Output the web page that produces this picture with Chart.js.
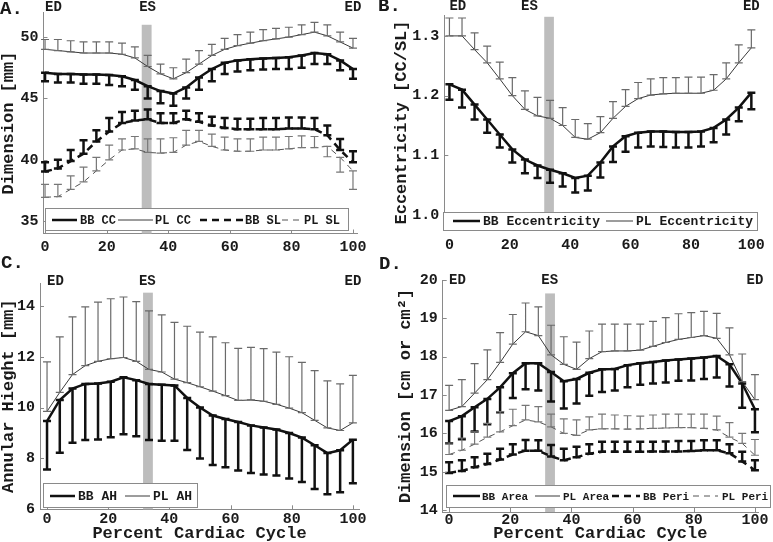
<!DOCTYPE html>
<html>
<head>
<meta charset="utf-8">
<script src="https://cdn.jsdelivr.net/npm/chart.js@4.4.1/dist/chart.umd.min.js"></script>
<style>
  html, body { margin: 0; padding: 0; background: #fff; }
  #wrap { position: relative; width: 773px; height: 542px; overflow: hidden; }
  canvas { position: absolute; }
</style>
</head>
<body>
<div id="wrap">
  <canvas id="cA"></canvas>
  <canvas id="cB"></canvas>
  <canvas id="cC"></canvas>
  <canvas id="cD"></canvas>
</div>
<script>
// percent of cardiac cycle (25 frames)
const pct = [0, 4.17, 8.33, 12.5, 16.67, 20.83, 25, 29.17, 33.33, 37.5, 41.67, 45.83, 50,
             54.17, 58.33, 62.5, 66.67, 70.83, 75, 79.17, 83.33, 87.5, 91.67, 95.83, 100];
const xTicks = [0, 20, 40, 60, 80, 100];
const esBand = [31.4, 34.6];

// A. CC / SL dimensions [mm]  (mean, and end of the error bar)
const yTicksA = [35, 40, 45, 50];
const bbCC    = [47.1, 47.0, 47.0, 46.95, 46.95, 46.9, 46.8, 46.5, 46.0, 45.6, 45.4, 45.9, 46.7, 47.4, 47.9, 48.1, 48.2, 48.25, 48.3, 48.35, 48.5, 48.7, 48.6, 48.1, 47.4];
const bbCCbar = [46.4, 46.3, 46.3, 46.2, 46.2, 46.1, 46.0, 45.7, 45.0, 44.6, 44.4, 45.0, 45.7, 46.4, 47.0, 47.2, 47.3, 47.35, 47.4, 47.4, 47.5, 47.8, 47.8, 47.3, 46.6];
const plCC    = [49.0, 48.9, 48.8, 48.7, 48.7, 48.7, 48.6, 48.3, 47.6, 47.0, 46.6, 47.1, 47.8, 48.5, 49.0, 49.3, 49.5, 49.7, 49.85, 50.0, 50.2, 50.4, 50.1, 49.6, 49.1];
const plCCbar = [49.8, 49.8, 49.7, 49.6, 49.6, 49.6, 49.5, 49.2, 48.5, 47.8, 47.5, 48.2, 48.9, 49.4, 49.9, 50.2, 50.4, 50.6, 50.7, 50.8, 51.0, 51.2, 51.0, 50.4, 49.9];
const bbSL    = [39.05, 39.3, 39.9, 40.5, 41.5, 42.3, 43.0, 43.2, 43.3, 43.0, 43.0, 43.3, 43.1, 42.8, 42.6, 42.5, 42.5, 42.5, 42.5, 42.55, 42.55, 42.5, 42.0, 40.8, 39.8];
const bbSLbar = [39.8, 40.0, 40.8, 41.6, 42.4, 43.4, 43.9, 44.0, 44.1, 43.8, 43.8, 44.0, 43.8, 43.5, 43.4, 43.35, 43.35, 43.4, 43.4, 43.45, 43.45, 43.4, 42.8, 41.7, 40.7];
const plSL    = [36.95, 37.0, 37.6, 38.2, 39.1, 40.0, 40.8, 40.9, 40.6, 40.55, 40.6, 41.2, 41.5, 41.1, 40.8, 40.7, 40.7, 40.8, 40.8, 40.9, 41.0, 41.0, 41.1, 40.2, 39.1];
const plSLbar = [38.0, 38.0, 38.7, 39.4, 40.2, 41.2, 41.7, 41.9, 41.7, 41.7, 41.8, 42.4, 42.4, 42.1, 41.85, 41.7, 41.7, 41.85, 41.85, 41.9, 41.95, 41.9, 40.25, 39.0, 37.6];

// B. eccentricity [CC/SL]
const yTicksB  = [1.0, 1.1, 1.2, 1.3];
const yLabelsB = ['1.0', '1.1', '1.2', '1.3'];
const bbEcc    = [1.219, 1.21, 1.185, 1.16, 1.135, 1.11, 1.093, 1.083, 1.076, 1.07, 1.062, 1.066, 1.088, 1.115, 1.132, 1.138, 1.14, 1.14, 1.139, 1.139, 1.14, 1.146, 1.16, 1.18, 1.205];
const bbEccBar = [1.193, 1.18, 1.16, 1.138, 1.113, 1.088, 1.07, 1.062, 1.054, 1.048, 1.038, 1.041, 1.063, 1.089, 1.106, 1.113, 1.115, 1.114, 1.113, 1.113, 1.115, 1.122, 1.135, 1.157, 1.177];
const plEcc    = [1.30, 1.30, 1.277, 1.255, 1.228, 1.20, 1.177, 1.166, 1.162, 1.15, 1.13, 1.127, 1.138, 1.162, 1.182, 1.195, 1.201, 1.203, 1.204, 1.204, 1.204, 1.209, 1.228, 1.255, 1.28];
const plEccBar = [1.33, 1.33, 1.305, 1.283, 1.256, 1.23, 1.208, 1.197, 1.192, 1.18, 1.16, 1.153, 1.165, 1.19, 1.21, 1.222, 1.228, 1.23, 1.23, 1.231, 1.231, 1.235, 1.255, 1.285, 1.31];

// C. annular height [mm]
const yTicksC = [6, 8, 10, 12, 14];
const bbAH    = [9.47, 10.3, 10.75, 10.93, 10.95, 11.02, 11.19, 11.08, 10.93, 10.9, 10.87, 10.38, 10.0, 9.69, 9.55, 9.43, 9.3, 9.22, 9.14, 9.0, 8.82, 8.52, 8.21, 8.32, 8.74];
const bbAHbar = [7.57, 8.22, 8.62, 8.73, 8.75, 8.83, 8.95, 8.87, 8.73, 8.7, 8.7, 8.33, 8.0, 7.74, 7.65, 7.53, 7.43, 7.37, 7.33, 7.21, 7.07, 6.8, 6.59, 6.67, 7.02];
const plAH    = [9.85, 10.6, 11.3, 11.65, 11.82, 11.92, 11.97, 11.82, 11.5, 11.4, 11.12, 10.98, 10.82, 10.65, 10.47, 10.28, 10.3, 10.25, 10.13, 9.98, 9.8, 9.5, 9.2, 9.1, 9.4];
const plAHbar = [11.8, 12.78, 13.57, 13.96, 14.15, 14.28, 14.35, 14.17, 13.8, 13.65, 13.35, 13.2, 12.97, 12.78, 12.55, 12.33, 12.37, 12.32, 12.18, 12.0, 11.78, 11.45, 11.05, 10.93, 11.27];

// D. area [cm2] and perimeter [cm]
const yTicksD   = [14, 15, 16, 17, 18, 19, 20];
const bbArea    = [16.32, 16.45, 16.68, 16.9, 17.2, 17.57, 17.83, 17.83, 17.6, 17.36, 17.42, 17.58, 17.67, 17.68, 17.78, 17.83, 17.86, 17.9, 17.93, 17.95, 17.98, 18.02, 17.8, 17.3, 16.63];
const bbAreaBar = [15.74, 15.85, 16.05, 16.24, 16.55, 16.92, 17.15, 17.12, 16.83, 16.65, 16.78, 16.98, 17.08, 17.12, 17.2, 17.27, 17.3, 17.33, 17.37, 17.38, 17.42, 17.46, 17.22, 16.67, 16.03];
const plArea    = [16.6, 16.7, 17.05, 17.4, 17.85, 18.33, 18.65, 18.55, 18.05, 17.8, 17.67, 17.95, 18.13, 18.15, 18.15, 18.17, 18.27, 18.37, 18.45, 18.5, 18.55, 18.48, 18.05, 17.35, 16.88];
const plAreaBar = [17.25, 17.4, 17.82, 18.18, 18.63, 19.1, 19.4, 19.3, 18.82, 18.52, 18.38, 18.67, 18.85, 18.85, 18.85, 18.85, 18.92, 19.02, 19.12, 19.15, 19.18, 19.13, 18.75, 18.07, 17.53];
const bbPeri    = [14.97, 15.02, 15.12, 15.2, 15.32, 15.45, 15.55, 15.55, 15.4, 15.3, 15.38, 15.47, 15.52, 15.52, 15.52, 15.52, 15.53, 15.53, 15.53, 15.54, 15.56, 15.56, 15.48, 15.27, 15.04];
const bbPeriBar = [15.25, 15.3, 15.38, 15.47, 15.6, 15.72, 15.83, 15.82, 15.7, 15.6, 15.65, 15.72, 15.78, 15.78, 15.78, 15.78, 15.78, 15.79, 15.8, 15.8, 15.82, 15.82, 15.72, 15.52, 15.3];
const plPeri    = [15.45, 15.56, 15.72, 15.9, 16.04, 16.2, 16.35, 16.3, 16.17, 16.0, 15.95, 16.09, 16.12, 16.12, 16.11, 16.12, 16.13, 16.14, 16.15, 16.15, 16.13, 16.09, 15.9, 15.74, 15.43];
const plPeriBar = [15.75, 15.88, 16.04, 16.26, 16.57, 16.63, 16.73, 16.7, 16.5, 16.38, 16.35, 16.43, 16.5, 16.48, 16.46, 16.45, 16.48, 16.5, 16.5, 16.5, 16.5, 16.45, 16.28, 16.0, 15.84];

const FONT = '"Liberation Mono", "Courier New", monospace';
const INK = '#1a1a1a';
const AXIS = '#8a8a8a';

const styles = {
  bb:     { color: '#111', width: 2.5, dash: [],     barColor: '#111', barWidth: 2.5 },
  pl:     { color: '#3a3a3a', width: 1, dash: [],    barColor: '#6a6a6a', barWidth: 1.2 },
  bbDash: { color: '#111', width: 2.5, dash: [7, 5], barColor: '#111', barWidth: 2.5 },
  plDash: { color: '#555', width: 1, dash: [6, 5],   barColor: '#777', barWidth: 1.2 }
};

// page layout (pixels) per panel
const panels = [
  { id: 'cA', letter: 'A.', letterPos: [0, 9], canvas: [0, 0, 386, 271], area: [43.5, 4, 357.6, 233.5],
    xlim: [-0.5, 101.5], ylim: [34, 52], yTicks: yTicksA, yTitle: 'Dimension [mm]', yTitlePad: 0,
    xTitle: '', xPad: 6, bandTop: 51, esX: 33.3, markY: 7,
    series: [
      { label: 'BB CC', mean: bbCC, bar: bbCCbar, st: 'bb' },
      { label: 'PL CC', mean: plCC, bar: plCCbar, st: 'pl' },
      { label: 'BB SL', mean: bbSL, bar: bbSLbar, st: 'bbDash' },
      { label: 'PL SL', mean: plSL, bar: plSLbar, st: 'plDash' }
    ],
    legend: { box: [45, 208, 348, 230], ty: 220, size: 12,
      items: [[52, 77, 80, 0], [118, 153, 155, 1], [200, 243, 245, 2], [282, 302, 304, 3]] } },
  { id: 'cB', letter: 'B.', letterPos: [378, 6], canvas: [376, 0, 397, 271], area: [444.3, 15, 758, 230],
    xlim: [-1.7, 101], ylim: [0.975, 1.335], yTicks: yTicksB, yLabels: yLabelsB, yTitle: 'Eccentricity [CC/SL]', yTitlePad: 17.5,
    xTitle: '', xPad: 8, bandTop: 1.332, esX: 26.5, markY: 6,
    series: [
      { label: 'BB Eccentricity', mean: bbEcc, bar: bbEccBar, st: 'bb' },
      { label: 'PL Eccentricity', mean: plEcc, bar: plEccBar, st: 'pl' }
    ],
    legend: { box: [443, 212, 757, 230], ty: 221, size: 13,
      items: [[453, 480, 483, 0], [606, 633, 636, 1]] } },
  { id: 'cC', letter: 'C.', letterPos: [1, 263], canvas: [0, 255, 386, 287], area: [40, 283, 359, 509.3],
    xlim: [-2.3, 102], ylim: [6, 14.9], yTicks: yTicksC, yTitle: 'Annular Hieght [mm]', yTitlePad: 0,
    xTitle: 'Percent Cardiac Cycle', xPad: 2, bandTop: 14.52, esX: 32.8, markY: 281,
    series: [
      { label: 'BB AH', mean: bbAH, bar: bbAHbar, st: 'bb' },
      { label: 'PL AH', mean: plAH, bar: plAHbar, st: 'pl' }
    ],
    legend: { box: [43, 483, 197, 507], ty: 496, size: 13,
      items: [[50, 75, 78, 0], [125, 150, 153, 1]] } },
  { id: 'cD', letter: 'D.', letterPos: [379, 264], canvas: [376, 255, 397, 287], area: [442.7, 280, 758, 512],
    xlim: [-2.1, 101], ylim: [13.95, 20], yTicks: yTicksD, yTitle: 'Dimension [cm or cm\u00B2]', yTitlePad: 21.5,
    xTitle: 'Percent Cardiac Cycle', xPad: 1, bandTop: 19.65, esX: 32.9, markY: 280,
    series: [
      { label: 'BB Area', mean: bbArea, bar: bbAreaBar, st: 'bb' },
      { label: 'PL Area', mean: plArea, bar: plAreaBar, st: 'pl' },
      { label: 'BB Peri', mean: bbPeri, bar: bbPeriBar, st: 'bbDash' },
      { label: 'PL Peri', mean: plPeri, bar: plPeriBar, st: 'plDash' }
    ],
    legend: { box: [446, 485, 770, 507], ty: 496, size: 11,
      items: [[453, 480, 482, 0], [535, 560, 563, 1], [612, 640, 643, 2], [693, 718, 722, 3]] } }
];
const byId = {};
panels.forEach(p => { byId[p.id] = p; });

function strokeStyle(ctx, st, thinBar) {
  ctx.strokeStyle = thinBar ? st.barColor : st.color;
  ctx.lineWidth = thinBar ? st.barWidth : st.width;
}

// ES band, error bars, inward ticks, legend and labels
const decor = {
  id: 'decor',
  beforeDatasetsDraw(chart) {
    const p = byId[chart.canvas.id];
    const { ctx, scales: { x, y } } = chart;
    const x0 = x.getPixelForValue(esBand[0]), x1 = x.getPixelForValue(esBand[1]);
    const yt = y.getPixelForValue(p.bandTop);
    ctx.save();
    ctx.fillStyle = '#bdbdbd';
    ctx.fillRect(x0, yt, x1 - x0, y.bottom - yt);
    ctx.restore();
  },
  afterDatasetsDraw(chart) {
    const p = byId[chart.canvas.id];
    const { ctx, scales: { x, y } } = chart;
    ctx.save();
    p.series.forEach(s => {
      const st = styles[s.st];
      strokeStyle(ctx, st, true);
      ctx.setLineDash([]);
      ctx.beginPath();
      pct.forEach((v, i) => {
        const px = x.getPixelForValue(v);
        const y0 = y.getPixelForValue(s.mean[i]);
        const y1 = y.getPixelForValue(s.bar[i]);
        ctx.moveTo(px, y0); ctx.lineTo(px, y1);
        ctx.moveTo(px - 4, y0); ctx.lineTo(px + 4, y0);
        ctx.moveTo(px - 4, y1); ctx.lineTo(px + 4, y1);
      });
      ctx.stroke();
    });
    ctx.restore();
  },
  afterDraw(chart) {
    const p = byId[chart.canvas.id];
    const { ctx, scales: { x, y } } = chart;
    const ox = p.canvas[0], oy = p.canvas[1];
    ctx.save();
    // inward tick marks
    ctx.strokeStyle = AXIS; ctx.lineWidth = 1;
    ctx.beginPath();
    xTicks.forEach(v => { const px = Math.round(x.getPixelForValue(v)) + 0.5; ctx.moveTo(px, y.bottom); ctx.lineTo(px, y.bottom - 4); });
    p.yTicks.forEach(v => { const py = Math.round(y.getPixelForValue(v)) + 0.5; ctx.moveTo(x.left, py); ctx.lineTo(x.left + 4, py); });
    ctx.stroke();

    // legend
    const L = p.legend;
    ctx.fillStyle = '#fff';
    ctx.fillRect(L.box[0] - ox, L.box[1] - oy, L.box[2] - L.box[0], L.box[3] - L.box[1]);
    ctx.strokeStyle = AXIS; ctx.lineWidth = 1;
    ctx.strokeRect(L.box[0] - ox + 0.5, L.box[1] - oy + 0.5, L.box[2] - L.box[0], L.box[3] - L.box[1]);
    ctx.font = 'bold ' + L.size + 'px ' + FONT;
    ctx.textBaseline = 'middle'; ctx.textAlign = 'left';
    L.items.forEach(([s0, s1, tx, k]) => {
      const s = p.series[k], st = styles[s.st];
      strokeStyle(ctx, st, false);
      ctx.setLineDash(st.dash);
      ctx.beginPath();
      ctx.moveTo(s0 - ox, L.ty - oy); ctx.lineTo(s1 - ox, L.ty - oy);
      ctx.stroke();
      ctx.setLineDash([]);
      ctx.fillStyle = INK;
      ctx.fillText(s.label, tx - ox, L.ty - oy + 1);
    });

    // ED / ES markers
    ctx.font = 'bold 14px ' + FONT;
    ctx.fillStyle = INK;
    const my = p.markY - oy;
    ctx.textAlign = 'left';   ctx.fillText('ED', x.getPixelForValue(0), my);
    ctx.textAlign = 'center'; ctx.fillText('ES', x.getPixelForValue(p.esX), my);
    ctx.fillText('ED', x.getPixelForValue(100), my);

    // panel letter
    ctx.font = 'bold 19px ' + FONT;
    ctx.textAlign = 'left';
    ctx.fillText(p.letter, p.letterPos[0] - ox, p.letterPos[1] - oy);
    ctx.restore();
  }
};

function build(p) {
  const [cl, ct, cw, ch] = p.canvas;
  const [al, at, ar, ab] = p.area;
  const cv = document.getElementById(p.id);
  cv.width = cw; cv.height = ch;
  cv.style.left = cl + 'px'; cv.style.top = ct + 'px';
  const tickFont = { family: FONT, size: 15, weight: 'bold', lineHeight: 1 };
  const titleFont = { family: FONT, size: 17, weight: 'bold', lineHeight: 1 };
  return new Chart(cv, {
    type: 'line',
    data: {
      datasets: p.series.map(s => {
        const st = styles[s.st];
        return {
          label: s.label,
          data: pct.map((v, i) => ({ x: v, y: s.mean[i] })),
          borderColor: st.color, borderWidth: st.width, borderDash: st.dash,
          pointRadius: 0, tension: 0, fill: false
        };
      })
    },
    options: {
      responsive: false, animation: false, events: [],
      layout: { padding: { left: 0, top: at - ct, right: cl + cw - ar, bottom: 0 } },
      plugins: { legend: { display: false }, tooltip: { enabled: false } },
      scales: {
        x: {
          type: 'linear', min: p.xlim[0], max: p.xlim[1],
          afterBuildTicks: s => { s.ticks = xTicks.map(v => ({ value: v })); },
          afterFit: s => { s.height = ct + ch - ab; },
          grid: { display: false, drawTicks: false },
          border: { color: AXIS, width: 1 },
          ticks: { font: tickFont, color: INK, padding: p.xPad, maxRotation: 0, autoSkip: false },
          title: { display: !!p.xTitle, text: p.xTitle, font: titleFont, color: INK, padding: 0 }
        },
        y: {
          type: 'linear', min: p.ylim[0], max: p.ylim[1],
          afterBuildTicks: s => { s.ticks = p.yTicks.map(v => ({ value: v })); },
          afterFit: s => { s.width = al - cl; },
          grid: { display: false, drawTicks: false },
          border: { color: AXIS, width: 1 },
          ticks: { font: tickFont, color: INK, padding: 5, autoSkip: false,
                   callback: (v, i) => p.yLabels ? p.yLabels[i] : v },
          title: { display: true, text: p.yTitle, font: titleFont, color: INK,
                   padding: { top: p.yTitlePad, bottom: 0 } }
        }
      }
    },
    plugins: [decor]
  });
}

panels.forEach(build);
</script>
</body>
</html>
